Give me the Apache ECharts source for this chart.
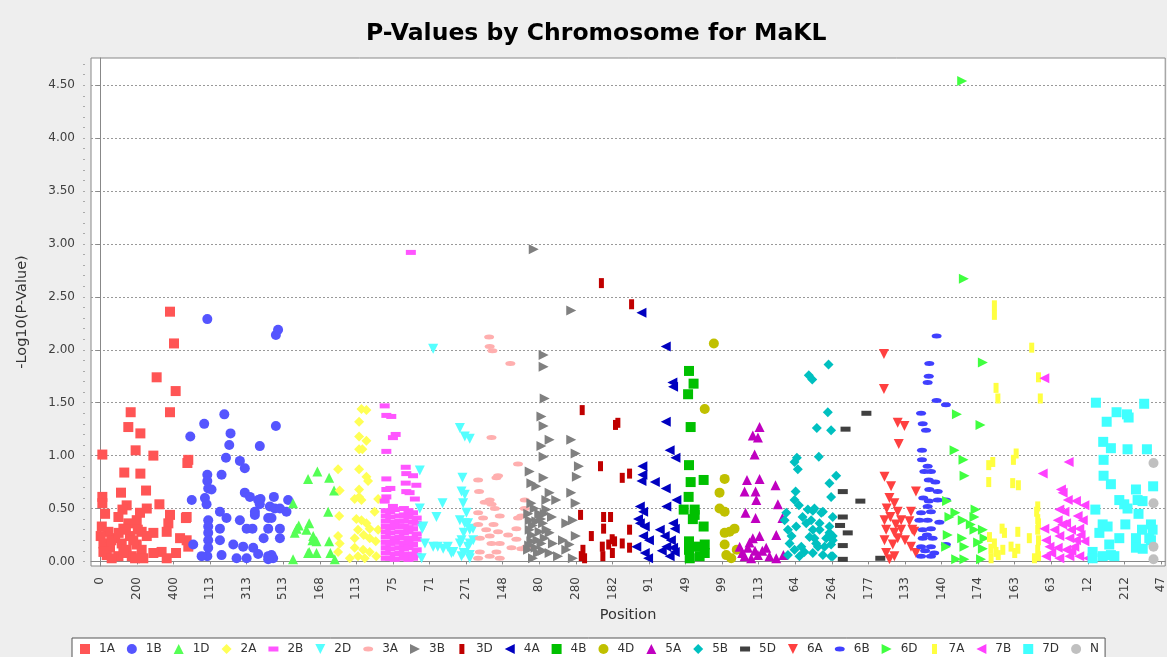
<!DOCTYPE html>
<html><head><meta charset="utf-8">
<script src="https://cdn.jsdelivr.net/npm/echarts@6/dist/echarts.min.js"></script>
<style>html,body{margin:0;padding:0;background:#eeeeee}#c{width:1167px;height:657px}</style>
</head><body><div id="c"></div>
<script>
// ---------------- data ----------------
const chromosomes = ['1A','1B','1D','2A','2B','2D','3A','3B','3D','4A','4B','4D','5A','5B','5D','6A','6B','6D','7A','7B','7D','N'];
const tickLabels = ['0','200','400','113','313','513','168','113','75','71','271','148','80','280','182','91','49','99','113','64','264','177','133','140','174','163','63','12','212','47'];
const yTickValues = [0,0.5,1,1.5,2,2.5,3,3.5,4,4.5];

// [cumulative position, -log10(p)]
const d1A = [[381,2.36],[403,2.06],[308,1.74],[412,1.61],[381,1.41],[166,1.41],[153,1.27],[219,1.21],[193,1.05],[11,1.01],[290,1.00],[481,0.96],[476,0.93],[131,0.84],[219,0.83],[250,0.67],[113,0.65],[11,0.61],[11,0.55],[323,0.54],[144,0.53],[121,0.49],[254,0.50],[26,0.45],[381,0.44],[468,0.41],[472,0.42],[217,0.46],[199,0.39],[99,0.42],[8,0.33],[372,0.36],[153,0.36],[126,0.31],[226,0.28],[290,0.27],[363,0.28],[44,0.28],[2,0.24],[81,0.22],[162,0.24],[254,0.24],[436,0.22],[17,0.17],[117,0.17],[199,0.16],[472,0.20],[481,0.14],[53,0.13],[144,0.11],[226,0.11],[335,0.09],[414,0.08],[35,0.06],[99,0.05],[172,0.05],[235,0.03],[363,0.03],[17,0.09],[126,0.08],[290,0.08],[62,0.03],[190,0.03],[140,0.30],[180,0.20],[60,0.20],[100,0.27],[205,0.30]];
const d1B = [[585,2.29],[960,2.14],[972,2.19],[960,1.28],[678,1.39],[568,1.30],[492,1.18],[712,1.21],[705,1.10],[872,1.09],[687,0.98],[763,0.95],[790,0.88],[585,0.82],[585,0.76],[663,0.82],[590,0.69],[608,0.68],[500,0.58],[572,0.60],[581,0.54],[790,0.65],[818,0.61],[876,0.59],[872,0.54],[590,0.39],[590,0.33],[590,0.27],[590,0.20],[590,0.13],[585,0.05],[654,0.47],[690,0.41],[763,0.39],[800,0.31],[832,0.31],[654,0.31],[654,0.20],[727,0.16],[781,0.14],[836,0.13],[508,0.16],[554,0.05],[663,0.06],[745,0.03],[800,0.03],[918,0.05],[918,0.41],[927,0.52],[949,0.61],[1027,0.58],[954,0.50],[982,0.50],[1018,0.47],[936,0.41],[982,0.31],[982,0.22],[936,0.06],[945,0.03],[863,0.58],[845,0.47],[845,0.44],[918,0.31],[893,0.22],[863,0.07],[918,0.02]];
const d1D = [[1187,0.85],[1136,0.78],[1251,0.79],[1278,0.67],[1246,0.47],[1054,0.55],[1142,0.36],[1073,0.31],[1127,0.30],[1164,0.24],[1182,0.19],[1251,0.19],[1142,0.09],[1182,0.08],[1258,0.08],[1054,0.02],[1282,0.02],[1063,0.27],[1085,0.34],[1160,0.20],[1136,0.08]];
const d2A = [[1428,1.44],[1455,1.43],[1415,1.32],[1415,1.18],[1455,1.14],[1415,1.06],[1433,1.06],[1300,0.87],[1415,0.87],[1455,0.80],[1464,0.76],[1309,0.67],[1415,0.68],[1415,0.61],[1391,0.59],[1428,0.58],[1519,0.59],[1500,0.47],[1306,0.43],[1428,0.39],[1455,0.36],[1473,0.31],[1409,0.30],[1519,0.30],[1300,0.24],[1391,0.22],[1473,0.22],[1309,0.17],[1506,0.19],[1391,0.13],[1437,0.11],[1473,0.09],[1300,0.09],[1409,0.05],[1446,0.03],[1509,0.05],[1364,0.03],[1440,0.25],[1400,0.40]];
const d2B = [[1698,2.92],[1555,1.47],[1564,1.38],[1591,1.37],[1615,1.20],[1600,1.17],[1564,1.04],[1670,0.89],[1673,0.83],[1710,0.81],[1564,0.78],[1670,0.74],[1728,0.72],[1564,0.68],[1586,0.69],[1673,0.66],[1691,0.65],[1555,0.57],[1720,0.59],[1564,0.61],[1600,0.52],
 [1561,0.48],[1585,0.47],[1610,0.49],[1660,0.50],[1685,0.48],[1710,0.46],
 [1561,0.43],[1585,0.42],[1635,0.43],[1660,0.44],[1685,0.42],[1730,0.41],
 [1561,0.38],[1610,0.37],[1635,0.38],[1660,0.38],[1710,0.37],[1730,0.36],
 [1561,0.33],[1585,0.32],[1610,0.33],[1660,0.33],[1685,0.32],[1710,0.31],
 [1561,0.28],[1585,0.27],[1635,0.28],[1660,0.27],[1685,0.28],[1730,0.26],
 [1561,0.23],[1610,0.22],[1635,0.23],[1660,0.22],[1710,0.22],[1730,0.21],
 [1561,0.18],[1585,0.17],[1610,0.18],[1660,0.17],[1685,0.18],[1710,0.16],
 [1561,0.13],[1585,0.12],[1635,0.13],[1660,0.12],[1685,0.13],[1730,0.11],
 [1561,0.08],[1610,0.07],[1635,0.08],[1660,0.07],[1710,0.07],[1730,0.06],
 [1561,0.03],[1585,0.03],[1610,0.02],[1660,0.03],[1685,0.02],[1710,0.03]];
const d2D = [[1820,2.01],[1747,0.86],[1966,1.26],[1993,1.18],[2020,1.16],[1747,0.50],[1838,0.42],[1871,0.55],[1980,0.79],[1975,0.66],[1993,0.63],[1984,0.55],[1766,0.33],[2002,0.46],[1993,0.36],[2020,0.30],[1775,0.17],[1820,0.14],[1875,0.12],[1920,0.08],[1975,0.20],[2011,0.14],[2039,0.20],[1757,0.03],[1975,0.05],[2020,0.03],[1966,0.39],[2011,0.36],[2038,0.31],[1987,0.27],[1966,0.17],[2020,0.17],[1930,0.09],[1987,0.08],[2020,0.06],[1760,0.31],[1900,0.14],[1845,0.14]];
const d3A = [[2126,2.12],[2129,2.03],[2144,1.99],[2242,1.87],[2139,1.17],[2284,0.92],[2175,0.81],[2166,0.79],[2066,0.77],[2071,0.66],[2129,0.58],[2139,0.54],[2102,0.56],[2321,0.58],[2184,0.43],[2157,0.50],[2066,0.46],[2093,0.41],[2284,0.41],[2302,0.43],[2321,0.50],[2066,0.35],[2175,0.28],[2275,0.31],[2129,0.24],[2075,0.22],[2275,0.21],[2184,0.17],[2139,0.17],[2248,0.13],[2302,0.12],[2075,0.09],[2166,0.09],[2129,0.05],[2184,0.03],[2066,0.03],[2330,0.14],[2150,0.35],[2110,0.30],[2230,0.25]];
const d3B = [[2370,2.95],[2575,2.37],[2424,1.95],[2424,1.84],[2430,1.54],[2412,1.37],[2424,1.28],[2457,1.15],[2412,1.09],[2424,0.99],[2575,1.15],[2599,1.02],[2617,0.90],[2606,0.80],[2348,0.85],[2424,0.79],[2357,0.74],[2384,0.71],[2457,0.65],[2493,0.58],[2439,0.58],[2575,0.65],[2599,0.55],[2357,0.55],[2439,0.49],[2348,0.39],[2384,0.38],[2421,0.36],[2548,0.36],[2584,0.39],[2348,0.30],[2402,0.28],[2457,0.27],[2357,0.19],[2412,0.17],[2475,0.17],[2530,0.20],[2566,0.16],[2339,0.11],[2393,0.08],[2457,0.08],[2503,0.05],[2366,0.03],[2584,0.03],[2548,0.11],[2600,0.24],[2430,0.45],[2470,0.42],[2340,0.45],[2375,0.50],[2400,0.45],[2360,0.25],[2390,0.20],[2430,0.22],[2345,0.15],[2380,0.13],[2420,0.10],[2440,0.30],[2365,0.34],[2410,0.40]];
const d3D = [[2740,2.63],[2905,2.43],[2635,1.43],[2817,1.29],[2830,1.31],[2735,0.90],[2854,0.79],[2894,0.83],[2626,0.44],[2752,0.42],[2790,0.42],[2752,0.31],[2685,0.24],[2799,0.21],[2812,0.19],[2854,0.17],[2894,0.30],[2745,0.14],[2639,0.11],[2630,0.05],[2648,0.03],[2748,0.05],[2894,0.13],[2800,0.08],[2780,0.16]];
const d4A = [[2959,2.35],[3092,2.03],[3128,1.69],[3132,1.65],[3092,1.32],[3113,1.05],[3145,0.98],[2964,0.90],[2964,0.82],[2959,0.76],[3032,0.75],[3092,0.69],[3150,0.58],[2950,0.52],[2968,0.47],[3095,0.52],[2950,0.36],[2977,0.33],[3059,0.30],[3086,0.24],[3132,0.36],[3141,0.31],[2968,0.24],[2931,0.14],[3095,0.14],[3132,0.13],[2977,0.08],[2995,0.03],[3113,0.05],[3141,0.09],[2940,0.40],[3000,0.20],[3070,0.10],[3120,0.20]];
const d4B = [[3219,1.80],[3244,1.68],[3214,1.58],[3228,1.27],[3219,0.91],[3228,0.75],[3299,0.77],[3217,0.61],[3190,0.49],[3250,0.49],[3250,0.44],[3299,0.33],[3219,0.19],[3219,0.11],[3259,0.14],[3305,0.16],[3223,0.03],[3277,0.05],[3305,0.08],[3240,0.40]];
const d4D = [[3355,2.06],[3305,1.44],[3414,0.78],[3386,0.65],[3386,0.50],[3414,0.47],[3414,0.27],[3441,0.28],[3468,0.31],[3414,0.16],[3423,0.06],[3450,0.03],[3480,0.11]];
const d5A = [[3605,1.27],[3568,1.19],[3596,1.17],[3578,1.01],[3536,0.77],[3605,0.78],[3692,0.72],[3523,0.66],[3583,0.66],[3587,0.58],[3705,0.54],[3528,0.46],[3583,0.41],[3730,0.41],[3696,0.25],[3496,0.14],[3541,0.13],[3568,0.22],[3605,0.24],[3641,0.13],[3523,0.05],[3559,0.03],[3596,0.06],[3659,0.05],[3696,0.03],[3735,0.06],[3510,0.08],[3580,0.10],[3620,0.10],[3550,0.18]];
const d5B = [[3982,1.86],[3874,1.76],[3893,1.72],[3978,1.41],[3918,1.26],[3996,1.24],[3929,0.99],[3809,0.98],[3796,0.94],[3814,0.87],[4024,0.81],[3987,0.74],[3996,0.61],[3802,0.66],[3796,0.58],[3820,0.53],[3751,0.46],[3742,0.39],[3869,0.49],[3905,0.50],[3951,0.47],[4005,0.42],[3760,0.30],[3805,0.33],[3860,0.36],[3896,0.30],[3933,0.36],[3987,0.27],[4005,0.20],[3769,0.17],[3796,0.11],[3833,0.14],[3878,0.23],[3914,0.17],[3960,0.14],[3823,0.05],[3996,0.05],[3896,0.48],[3942,0.46],[3887,0.39],[3933,0.30],[3987,0.33],[3905,0.22],[3969,0.22],[4005,0.24],[3924,0.14],[3996,0.16],[3896,0.08],[3951,0.06],[4005,0.05],[3760,0.06],[3850,0.09],[3780,0.24],[3840,0.42]];
const d5D = [[4189,1.40],[4075,1.25],[4060,0.66],[4156,0.57],[4060,0.42],[4045,0.34],[4087,0.27],[4060,0.15],[4060,0.02],[4265,0.03]];
const d6A = [[4285,1.96],[4285,1.63],[4360,1.31],[4397,1.28],[4366,1.11],[4288,0.80],[4324,0.71],[4460,0.66],[4315,0.60],[4342,0.55],[4360,0.47],[4379,0.39],[4433,0.47],[4288,0.39],[4424,0.38],[4297,0.30],[4342,0.27],[4379,0.30],[4451,0.28],[4288,0.20],[4333,0.16],[4360,0.22],[4433,0.14],[4460,0.08],[4297,0.08],[4342,0.05],[4315,0.02],[4300,0.50],[4350,0.35],[4320,0.42],[4400,0.20],[4440,0.30]];
const d6B = [[4573,2.13],[4533,1.87],[4530,1.75],[4524,1.69],[4573,1.52],[4624,1.48],[4488,1.40],[4497,1.30],[4515,1.24],[4493,1.05],[4493,0.96],[4524,0.90],[4506,0.85],[4542,0.85],[4530,0.77],[4566,0.75],[4533,0.68],[4579,0.66],[4530,0.57],[4579,0.58],[4624,0.58],[4524,0.52],[4488,0.46],[4542,0.47],[4479,0.39],[4524,0.39],[4542,0.31],[4497,0.30],[4588,0.37],[4497,0.22],[4551,0.22],[4488,0.14],[4542,0.14],[4624,0.16],[4488,0.05],[4542,0.05],[4510,0.10],[4520,0.25],[4560,0.08],[4500,0.60]];
const d6D = [[4713,4.54],[4722,2.67],[4826,1.88],[4684,1.39],[4813,1.29],[4671,1.05],[4720,0.96],[4726,0.81],[4630,0.57],[4643,0.42],[4676,0.46],[4716,0.39],[4786,0.49],[4780,0.42],[4634,0.25],[4713,0.22],[4780,0.30],[4826,0.30],[4835,0.22],[4625,0.14],[4725,0.14],[4826,0.12],[4680,0.02],[4725,0.02],[4816,0.02],[4760,0.35],[4800,0.18]];
const d7A = [[4889,2.42],[4889,2.33],[5093,2.02],[5130,1.74],[4898,1.64],[4908,1.54],[5140,1.54],[4880,0.94],[4858,0.91],[5008,1.02],[4993,0.96],[4858,0.75],[4989,0.74],[5020,0.72],[5126,0.52],[5120,0.47],[4931,0.31],[4944,0.27],[5017,0.28],[4862,0.23],[4889,0.17],[5080,0.22],[5126,0.30],[5130,0.20],[5126,0.11],[5130,0.05],[4898,0.09],[4935,0.11],[4980,0.14],[5017,0.12],[4871,0.03],[5108,0.03],[5130,0.36],[5126,0.40],[4870,0.12],[4910,0.06],[5000,0.08]];
const d7B = [[5162,1.73],[5295,0.94],[5153,0.83],[5253,0.68],[5262,0.65],[5290,0.58],[5335,0.57],[5381,0.53],[5244,0.49],[5272,0.47],[5344,0.43],[5372,0.39],[5235,0.39],[5281,0.36],[5162,0.31],[5217,0.30],[5308,0.30],[5353,0.31],[5244,0.24],[5299,0.22],[5171,0.20],[5190,0.14],[5335,0.20],[5381,0.19],[5235,0.13],[5281,0.11],[5326,0.14],[5171,0.05],[5244,0.03],[5299,0.05],[5353,0.05],[5399,0.03],[5200,0.08],[5260,0.35],[5310,0.10],[5360,0.25]];
const d7D = [[5444,1.50],[5708,1.49],[5557,1.41],[5503,1.32],[5614,1.39],[5623,1.36],[5484,1.13],[5526,1.07],[5617,1.06],[5723,1.06],[5486,0.96],[5486,0.81],[5526,0.73],[5757,0.71],[5663,0.68],[5672,0.58],[5699,0.57],[5572,0.58],[5599,0.54],[5617,0.50],[5441,0.49],[5677,0.45],[5481,0.35],[5508,0.33],[5605,0.35],[5696,0.30],[5745,0.35],[5754,0.30],[5463,0.27],[5572,0.22],[5663,0.22],[5736,0.22],[5517,0.16],[5663,0.13],[5426,0.09],[5481,0.05],[5526,0.06],[5545,0.05],[5426,0.03],[5745,0.20],[5700,0.12]];
const dN = [[5759,0.93],[5759,0.55],[5759,0.14],[5759,0.02]];

const seriesData = [d1A,d1B,d1D,d2A,d2B,d2D,d3A,d3B,d3D,d4A,d4B,d4D,d5A,d5B,d5D,d6A,d6B,d6D,d7A,d7B,d7D,dN];

// ---------------- styles ----------------
const colors = ['#FF5555','#5555FF','#55FF55','#FFFF55','#FF55FF','#55FFFF','#FFAFAF','#808080','#C00000','#0000C0','#00C000','#C0C000','#C000C0','#00C0C0','#404040','#FF4040','#4040FF','#40FF40','#FFFF40','#FF40FF','#40FFFF','#C0C0C0'];
const SHAPES = {
  sq: 'path://M0,0H10V10H0Z',
  ci: 'circle',
  ut: 'path://M5,0L10,10H0Z',
  di: 'path://M5,0L10,5L5,10L0,5Z',
  hr: 'path://M0,0M10,10M0,2.5H10V7.5H0Z',
  dt: 'path://M0,0H10L5,10Z',
  he: 'path://M0,0M10,10M0,5A5,2.5 0 1,1 10,5A5,2.5 0 1,1 0,5Z',
  rt: 'path://M0,0L10,5L0,10Z',
  vr: 'path://M0,0M10,10M2.5,0H7.5V10H2.5Z',
  lt: 'path://M10,0V10L0,5Z'
};
const shapeOrder = ['sq','ci','ut','di','hr','dt','he','rt','vr','lt'];
const FONT = 'DejaVu Sans';
const TICK_STEP = 200;
const xMin = -51, xMax = 5823, yMin = -0.043, yMax = 4.757;

const xTickValues = tickLabels.map((_, i) => i * TICK_STEP);
const yMinorValues = [];
for (let k = 0; k <= 47; k++) yMinorValues.push(+(k * 0.1).toFixed(1));

const chart = echarts.init(document.getElementById('c'));
chart.setOption({
  animation: false,
  backgroundColor: '#eeeeee',
  title: {
    text: 'P-Values by Chromosome for MaKL',
    left: 366, top: 22, padding: 0,
    textStyle: { fontFamily: FONT, fontWeight: 'bold', fontSize: 23.5, color: '#000' }
  },
  legend: {
    left: 72, top: 638,
    itemWidth: 18, itemHeight: 10, itemGap: 12,
    padding: [5, 6, 5, 8],
    backgroundColor: '#ffffff', borderColor: '#555555', borderWidth: 1, borderRadius: 0,
    selectedMode: false,
    symbolKeepAspect: true,
    textStyle: { fontFamily: FONT, fontSize: 12, color: '#333' },
    data: chromosomes.map((n, i) => ({ name: n, icon: SHAPES[shapeOrder[i % 10]] }))
  },
  grid: { left: 91, right: 1, top: 58, bottom: 91, show: true, backgroundColor: '#ffffff', borderColor: '#888888', borderWidth: 1, containLabel: false },
  xAxis: {
    type: 'value', min: xMin, max: xMax, offset: 6,
    name: 'Position', nameLocation: 'middle', nameGap: 30,
    nameTextStyle: { fontFamily: FONT, fontSize: 14.5, color: '#333' },
    axisLine: { show: true, lineStyle: { color: '#888888' } },
    axisTick: { show: true, length: 3, customValues: xTickValues, lineStyle: { color: '#888888' } },
    axisLabel: { show: true, rotate: 90, margin: 5, customValues: xTickValues,
      fontFamily: FONT, fontSize: 12, color: '#404040',
      formatter: v => tickLabels[Math.round(v / TICK_STEP)] },
    splitLine: { show: false }
  },
  yAxis: [{
    type: 'value', min: yMin, max: yMax, offset: 6, position: 'left',
    name: '-Log10(P-Value)', nameLocation: 'middle', nameGap: 55, nameRotate: 90,
    nameTextStyle: { fontFamily: FONT, fontSize: 14.5, color: '#333' },
    axisLine: { show: true, lineStyle: { color: '#888888' } },
    axisTick: { show: true, length: 4, customValues: yTickValues, lineStyle: { color: '#888888' } },
    axisLabel: { show: true, margin: 10, customValues: yTickValues,
      fontFamily: FONT, fontSize: 12, color: '#404040',
      formatter: v => v.toFixed(2) },
    splitLine: { show: true, lineStyle: { color: '#999999', type: [2, 2], width: 1 } }
  }, {
    type: 'value', min: yMin, max: yMax, offset: 6, position: 'left',
    axisLine: { show: false },
    axisTick: { show: true, length: 2, customValues: yMinorValues, lineStyle: { color: '#aaaaaa' } },
    axisLabel: { show: false },
    splitLine: { show: false }
  }],
  series: chromosomes.map((name, i) => ({
    name, type: 'scatter', data: seriesData[i],
    symbol: SHAPES[shapeOrder[i % 10]], symbolSize: 10,
    itemStyle: { color: colors[i], opacity: 1 },
    emphasis: { disabled: true }, silent: true, clip: true
  }))
});
</script></body></html>
